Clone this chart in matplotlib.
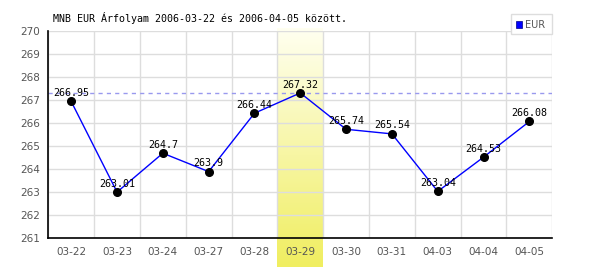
import numpy as np
import matplotlib
matplotlib.use("Agg")
import matplotlib.pyplot as plt
from matplotlib.patches import Rectangle

# 数据
dates = ["03-22", "03-23", "03-24", "03-27", "03-28", "03-29",
         "03-30", "03-31", "04-03", "04-04", "04-05"]
rates = [266.95, 263.01, 264.7, 263.9, 266.44, 267.32,
         265.74, 265.54, 263.04, 264.53, 266.08]
highlight = "03-29"
title = "MNB EUR Árfolyam 2006-03-22 és 2006-04-05 között."

fig = plt.figure(figsize=(6, 2.7), dpi=100)
ax = fig.add_axes([0.0805, 0.1174, 0.84, 0.7666])

x = np.arange(len(dates))
ymin, ymax = 261, 270

# 高亮列的渐变背景
hi = dates.index(highlight)
grad = np.linspace(0, 1, 100)[:, None]
top = np.array([255, 255, 240]) / 255
bot = np.array([240, 238, 96]) / 255
img = top + (bot - top) * grad[..., None]
ax.imshow(img, extent=[hi - 0.5, hi + 0.5, ymin - 1.25, ymax + 0.1],
          aspect="auto", origin="upper", clip_on=False, zorder=0.5)

# 网格
for v in np.arange(ymin, ymax + 1):
    ax.axhline(v, color="#dddddd", lw=1, zorder=0.6)
for b in np.arange(len(dates) + 1) - 0.5:
    ax.axvline(b, color="#dddddd", lw=1, zorder=0.6)

# 最大值虚线
ax.axhline(max(rates), color="#9999ee", lw=1, ls=(0, (3, 3)), zorder=1)

ax.plot(x, rates, color="#0000ff", lw=1, zorder=2)
ax.plot(x, rates, "o", color="black", ms=5.5, zorder=3)
for xi, v in zip(x, rates):
    ax.text(xi, v + 0.15, f"{v:g}", ha="center", va="bottom",
            family="DejaVu Sans Mono", fontsize=7.2, color="black", zorder=4)

ax.set_xlim(-0.5, len(dates) - 0.5)
ax.set_ylim(ymin, ymax)
ax.set_xticks(x)
ax.set_xticklabels(dates)
ax.set_yticks(np.arange(ymin, ymax + 1))
ax.tick_params(length=0, labelsize=7.5, labelcolor="#555555", pad=6)
for s in ["top", "right"]:
    ax.spines[s].set_visible(False)
ax.spines["left"].set_linewidth(1.2)
ax.spines["bottom"].set_linewidth(1.2)
ax.set_facecolor("white")

fig.text(53 / 600, 1 - 18 / 270, title, family="DejaVu Sans Mono",
         fontsize=7.2, va="center", ha="left")

# 图例
leg = Rectangle((511 / 600, 1 - 34 / 270), 41 / 600, 20 / 270,
                transform=fig.transFigure, facecolor="white",
                edgecolor="#dddddd", lw=1)
fig.patches.append(leg)
fig.patches.append(Rectangle((516 / 600, 1 - 27.5 / 270), 6 / 600, 6 / 270,
                             transform=fig.transFigure, facecolor="#0000ff",
                             edgecolor="#000088", lw=0.5))
fig.text(525 / 600, 1 - 24.5 / 270, "EUR", fontsize=7, color="#555555",
         va="center", ha="left")

fig.savefig("out.png", dpi=100)
